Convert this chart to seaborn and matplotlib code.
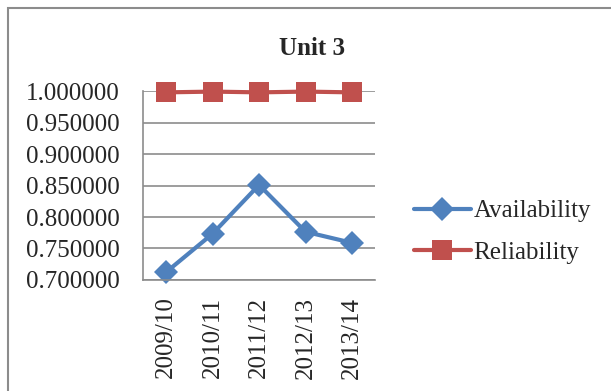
import pandas as pd
import matplotlib.pyplot as plt
import seaborn as sns
from matplotlib.patches import Rectangle

years = ['2009/10', '2010/11', '2011/12', '2012/13', '2013/14']
availability = [0.7125, 0.7735, 0.8510, 0.7765, 0.7590]
reliability = [0.9980, 0.9992, 0.9980, 0.9992, 0.9980]
yticks = [0.70, 0.75, 0.80, 0.85, 0.90, 0.95, 1.00]

avail_df = pd.DataFrame({'Year': years, 'Value': availability})
rel_df = pd.DataFrame({'Year': years, 'Value': reliability})

sns.set_style('white')
plt.rcParams['font.family'] = ['Liberation Serif', 'DejaVu Serif']

fig = plt.figure(figsize=(6.11, 3.91), dpi=100)
ax = fig.add_axes([0.234, 0.284, 0.380, 0.483])

sns.lineplot(data=avail_df, x='Year', y='Value', color='#4F81BD', marker='D',
             linewidth=3, markersize=12, markeredgewidth=0, clip_on=False,
             label='Availability', ax=ax)
sns.lineplot(data=rel_df, x='Year', y='Value', color='#C0504D', marker='s',
             linewidth=3, markersize=14, markeredgewidth=0, clip_on=False,
             label='Reliability', ax=ax)

ax.set_xlim(-0.5, 4.5)
ax.set_ylim(0.70, 1.00)
ax.set_yticks(yticks)
ax.set_yticklabels([f'{v:.6f}' for v in yticks], fontsize=18)
ax.set_xticks(range(len(years)))
ax.set_xticklabels(years, rotation=90, fontsize=18)
ax.tick_params(axis='y', length=0, pad=17)
ax.tick_params(axis='x', length=0, pad=12)
ax.yaxis.grid(True, color='#8c8c8c', linewidth=1.2)
for s in ['top', 'right']:
    ax.spines[s].set_visible(False)
for s in ['left', 'bottom']:
    ax.spines[s].set_color('#8c8c8c')
    ax.spines[s].set_linewidth(1.2)
ax.set_xlabel('')
ax.set_ylabel('')
ax.set_title('Unit 3', fontsize=18, fontweight='bold', x=0.73, pad=26)

ax.legend(loc='center left', bbox_to_anchor=(1.123, 0.255), frameon=False,
          fontsize=18, handlelength=2.3, handletextpad=0.1,
          labelspacing=0.76, borderaxespad=0)

fig.patches.append(Rectangle((0.013, -0.1), 1.2, 1.08, transform=fig.transFigure,
                             fill=False, edgecolor='#8c8c8c', linewidth=1.5))

fig.savefig('out.png', dpi=100)
